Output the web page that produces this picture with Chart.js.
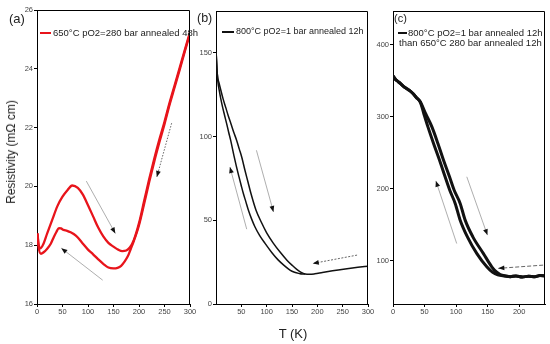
<!DOCTYPE html>
<html><head><meta charset="utf-8">
<script src="https://cdn.jsdelivr.net/npm/chart.js@4/dist/chart.umd.min.js"></script>
<style>
html,body{margin:0;padding:0;background:#fff;}
#wrap{position:relative;width:550px;height:344px;overflow:hidden;font-family:"Liberation Sans",Arial,sans-serif;color:#222;}
canvas{position:absolute;top:0;}
.t{position:absolute;white-space:nowrap;line-height:1;}
.sw{position:absolute;height:2px;}
</style></head><body>
<div id="wrap">
<canvas id="ca" style="left:0px" width="198" height="320"></canvas>
<canvas id="cb" style="left:190px" width="186" height="320"></canvas>
<canvas id="cc" style="left:370px" width="180" height="320"></canvas>

<div class="t" style="left:9px;top:12px;font-size:13px;">(a)</div>
<div class="t" style="left:197px;top:12px;font-size:12.5px;">(b)</div>
<div class="t" style="left:394px;top:13px;font-size:11px;">(c)</div>

<div class="sw" style="left:40px;top:32px;width:11px;background:#e8141b;"></div>
<div class="t" style="left:53px;top:28px;font-size:9.5px;">650°C pO2=280 bar annealed 48h</div>

<div class="sw" style="left:222px;top:31px;width:12px;background:#111;"></div>
<div class="t" style="left:236px;top:27px;font-size:9px;">800°C pO2=1 bar annealed 12h</div>

<div class="sw" style="left:398px;top:32px;width:9px;background:#111;"></div>
<div class="t" style="left:408px;top:28px;font-size:9.5px;">800°C pO2=1 bar annealed 12h</div>
<div class="t" style="left:399px;top:38px;font-size:9.5px;">than 650°C 280 bar annealed 12h</div>

<div class="t" style="left:11px;top:152px;font-size:12px;transform:translate(-50%,-50%) rotate(-90deg);">Resistivity (mΩ cm)</div>
<div class="t" style="left:293px;top:333px;font-size:13px;transform:translate(-50%,-50%);">T (K)</div>
</div>
<script>
// ---------- data ----------
// panel (a)
const aUpperT = [1, 3, 6.5, 12, 20, 30, 40, 50, 60, 69, 80, 90, 100, 110, 120, 130, 140, 150, 160, 167, 175, 182, 190, 200, 210, 220, 230, 240, 250, 260, 270, 280, 290, 300];
const aUpperR = [18.4, 18.05, 17.89, 18.02, 18.4, 18.87, 19.33, 19.65, 19.88, 20.03, 19.95, 19.72, 19.36, 18.98, 18.6, 18.3, 18.08, 17.95, 17.84, 17.8, 17.82, 17.92, 18.18, 18.75, 19.5, 20.25, 20.95, 21.6, 22.2, 22.85, 23.45, 24.05, 24.65, 25.25];
const aLowerT = [1, 3, 7.8, 13, 20, 27, 33, 38, 43, 47, 52, 59, 66, 72, 80, 90, 100, 110, 120, 131, 140, 150, 158, 165, 172, 178, 184, 190, 200, 210, 220, 230, 240, 250, 260, 270, 280, 290, 300];
const aLowerR = [18.4, 17.95, 17.71, 17.76, 17.88, 18.05, 18.28, 18.45, 18.58, 18.57, 18.52, 18.49, 18.44, 18.38, 18.26, 18.05, 17.85, 17.69, 17.52, 17.35, 17.24, 17.21, 17.23, 17.3, 17.45, 17.62, 17.88, 18.15, 18.68, 19.4, 20.15, 20.85, 21.5, 22.12, 22.78, 23.38, 23.98, 24.6, 25.2];
// panel (b)
const bRightT = [0.3, 2.5, 6, 9.7, 14, 19, 24, 29.5, 35, 40.8, 46, 51, 57, 63, 69, 79, 90, 100, 113, 126, 140, 150, 160, 168, 176, 185, 195, 210, 230, 255, 280, 300];
const bRightR = [150, 137.5, 132, 127.5, 122.5, 117.6, 112.6, 107.7, 102.6, 97.7, 92.5, 87.5, 80, 73, 66, 56, 48.5, 42.5, 36.4, 31.2, 26.2, 23.2, 20.5, 18.9, 17.9, 17.7, 18, 18.8, 19.8, 20.9, 21.9, 22.6];
const bLeftT = [0.3, 2.5, 4, 6.5, 9.5, 13, 17, 21, 25, 29, 35.5, 40, 45.4, 50, 54, 59, 64, 70, 77, 86, 96.8, 110, 123, 135, 146, 155, 163, 170, 176];
const bLeftR = [150, 137.5, 132, 127.5, 122.5, 117.6, 112.6, 107.7, 102.6, 97.7, 88.5, 82.5, 75.9, 70.5, 66, 61, 56, 51, 46, 41, 36.2, 30.8, 26.2, 22.9, 20.3, 19, 18.3, 17.9, 17.9];
// panel (c)
const cStartT = [0, 4, 8, 12, 17, 22, 27, 32, 37];
const cStartR = [357, 352, 349, 346, 342, 339, 336, 332, 327];
const cLeftT = [43.2, 49, 55.4, 64.3, 73.7, 82.5, 90, 98.6, 106.5, 118, 133, 148.7, 158, 166];
const cLeftR = [320.8, 304, 286, 263, 240, 217, 198, 179.7, 156.5, 133.3, 110, 91.7, 84, 80.5];
const cRightT = [43.2, 52, 61.7, 71.2, 80, 89.6, 97, 106.5, 114.4, 126.6, 143.4, 156.6, 164, 170];
const cRightR = [320.8, 304, 286, 263, 240, 216.7, 198, 179.7, 156.5, 133.3, 110, 91.7, 84.5, 81];
const cTailT = [178, 186, 195, 205, 215, 225, 233, 241];
const cTailR = [79, 78, 79, 77.5, 78.5, 78, 79.5, 79];
// tick values
const aXTicks = [0, 50, 100, 150, 200, 250, 300];
const aYTicks = [16, 18, 20, 22, 24, 26];
const bXTicks = [50, 100, 150, 200, 250, 300];
const bYTicks = [0, 50, 100, 150];
const cXTicks = [0, 50, 100, 150, 200];
const cYTicks = [100, 200, 300, 400];
// guide arrows (start T,R -> end T,R)
const aArrows = [[96.7, 20.18, 153.6, 18.4], [128.8, 16.81, 47.7, 17.9], [264, 22.15, 235, 20.32]];
const bArrows = [[79.8, 91.8, 113.4, 55], [60.6, 44.7, 27.5, 81.8], [278.4, 29.2, 191, 24.2]];
const cArrows = [[117, 216.7, 149.7, 135.7], [101, 124, 68, 211], [238, 94, 167, 89.5]];

// ---------- helpers ----------
const pts = (T, R) => T.map((t, i) => ({x: t, y: R[i]}));
const FONT = '"Liberation Sans", Arial, sans-serif';

const framePlugin = {
  id: 'frame',
  afterDatasetsDraw(chart) {
    const {ctx, chartArea: a} = chart;
    ctx.save();
    ctx.strokeStyle = '#000'; ctx.lineWidth = 1;
    ctx.beginPath();
    ctx.moveTo(Math.round(a.left) + 0.5, Math.round(a.top) + 0.5);
    ctx.lineTo(Math.round(a.right) - 0.5, Math.round(a.top) + 0.5);
    ctx.lineTo(Math.round(a.right) - 0.5, Math.round(a.bottom));
    ctx.stroke();
    ctx.restore();
  }
};
const arrowPlugin = {
  id: 'arrows',
  afterDatasetsDraw(chart, args, opts) {
    const list = opts.list || [];
    const {ctx} = chart, xs = chart.scales.x, ys = chart.scales.y;
    ctx.save();
    list.forEach((a, i) => {
      const x1 = xs.getPixelForValue(a[0]), y1 = ys.getPixelForValue(a[1]);
      const x2 = xs.getPixelForValue(a[2]), y2 = ys.getPixelForValue(a[3]);
      const dashed = i === 2;
      ctx.strokeStyle = dashed ? '#555' : '#999';
      ctx.lineWidth = dashed ? 0.9 : 0.8;
      ctx.setLineDash(dashed ? opts.dash : []);
      ctx.beginPath(); ctx.moveTo(x1, y1); ctx.lineTo(x2, y2); ctx.stroke();
      ctx.setLineDash([]);
      const ang = Math.atan2(y2 - y1, x2 - x1), L = 6, W = 2.4;
      ctx.fillStyle = '#111';
      ctx.beginPath();
      ctx.moveTo(x2, y2);
      ctx.lineTo(x2 - L * Math.cos(ang) + W * Math.sin(ang), y2 - L * Math.sin(ang) - W * Math.cos(ang));
      ctx.lineTo(x2 - L * Math.cos(ang) - W * Math.sin(ang), y2 - L * Math.sin(ang) + W * Math.cos(ang));
      ctx.closePath(); ctx.fill();
    });
    ctx.restore();
  }
};

function axis(min, max, ticks, fit) {
  return {
    type: 'linear', min, max,
    afterBuildTicks: s => { s.ticks = ticks.map(v => ({value: v})); },
    afterFit: fit,
    ticks: {font: {size: 7.5, family: FONT}, color: '#444', padding: 1, maxRotation: 0, autoSkip: false},
    grid: {display: true, drawOnChartArea: false, drawTicks: true, tickLength: 3, color: '#000', lineWidth: 1},
    border: {display: true, color: '#000', width: 1}
  };
}
function line(data, color, w) {
  return {data, showLine: true, borderColor: color, backgroundColor: color, borderWidth: w,
          pointRadius: 0, cubicInterpolationMode: 'monotone', fill: false};
}
function makeChart(id, datasets, o) {
  return new Chart(document.getElementById(id), {
    type: 'scatter',
    data: {datasets},
    options: {
      responsive: false, animation: false, events: [],
      layout: {padding: {top: o.top, right: o.right, left: 0, bottom: 0}},
      plugins: {legend: {display: false}, tooltip: {enabled: false}, arrows: {list: o.arrows, dash: o.dash}},
      scales: {
        x: Object.assign(axis(o.xmin, o.xmax, o.xt, s => { s.height = 16; }), {ticks: {font: {size: 7.5, family: FONT}, color: '#444', padding: 0, maxRotation: 0, autoSkip: false}}),
        y: axis(o.ymin, o.ymax, o.yt, s => { s.width = o.yw; })
      }
    },
    plugins: [framePlugin, arrowPlugin]
  });
}

makeChart('ca', [
  line(pts(aLowerT, aLowerR), '#e8141b', 2.3),
  line(pts(aUpperT, aUpperR), '#e8141b', 2.3)
], {top: 10, right: 8, yw: 37, xmin: 0, xmax: 300, ymin: 16, ymax: 26, xt: aXTicks, yt: aYTicks, arrows: aArrows, dash: [1.5, 1.5]});

makeChart('cb', [
  line(pts(bLeftT, bLeftR), '#111', 1.5),
  line(pts(bRightT, bRightR), '#111', 1.5)
], {top: 11, right: 8, yw: 26, xmin: 0, xmax: 300, ymin: 0, ymax: 175, xt: bXTicks, yt: bYTicks, arrows: bArrows, dash: [2, 1.5]});

makeChart('cc', [
  line(pts(cStartT.concat(cLeftT, cTailT), cStartR.concat(cLeftR, cTailR)), '#111', 3),
  line(pts(cStartT.concat(cRightT, cTailT), cStartR.concat(cRightR, cTailR)), '#111', 3)
], {top: 11, right: 5, yw: 23, xmin: 0, xmax: 241, ymin: 40, ymax: 447, xt: cXTicks, yt: cYTicks, arrows: cArrows, dash: [4, 2]});
</script>
</body></html>
